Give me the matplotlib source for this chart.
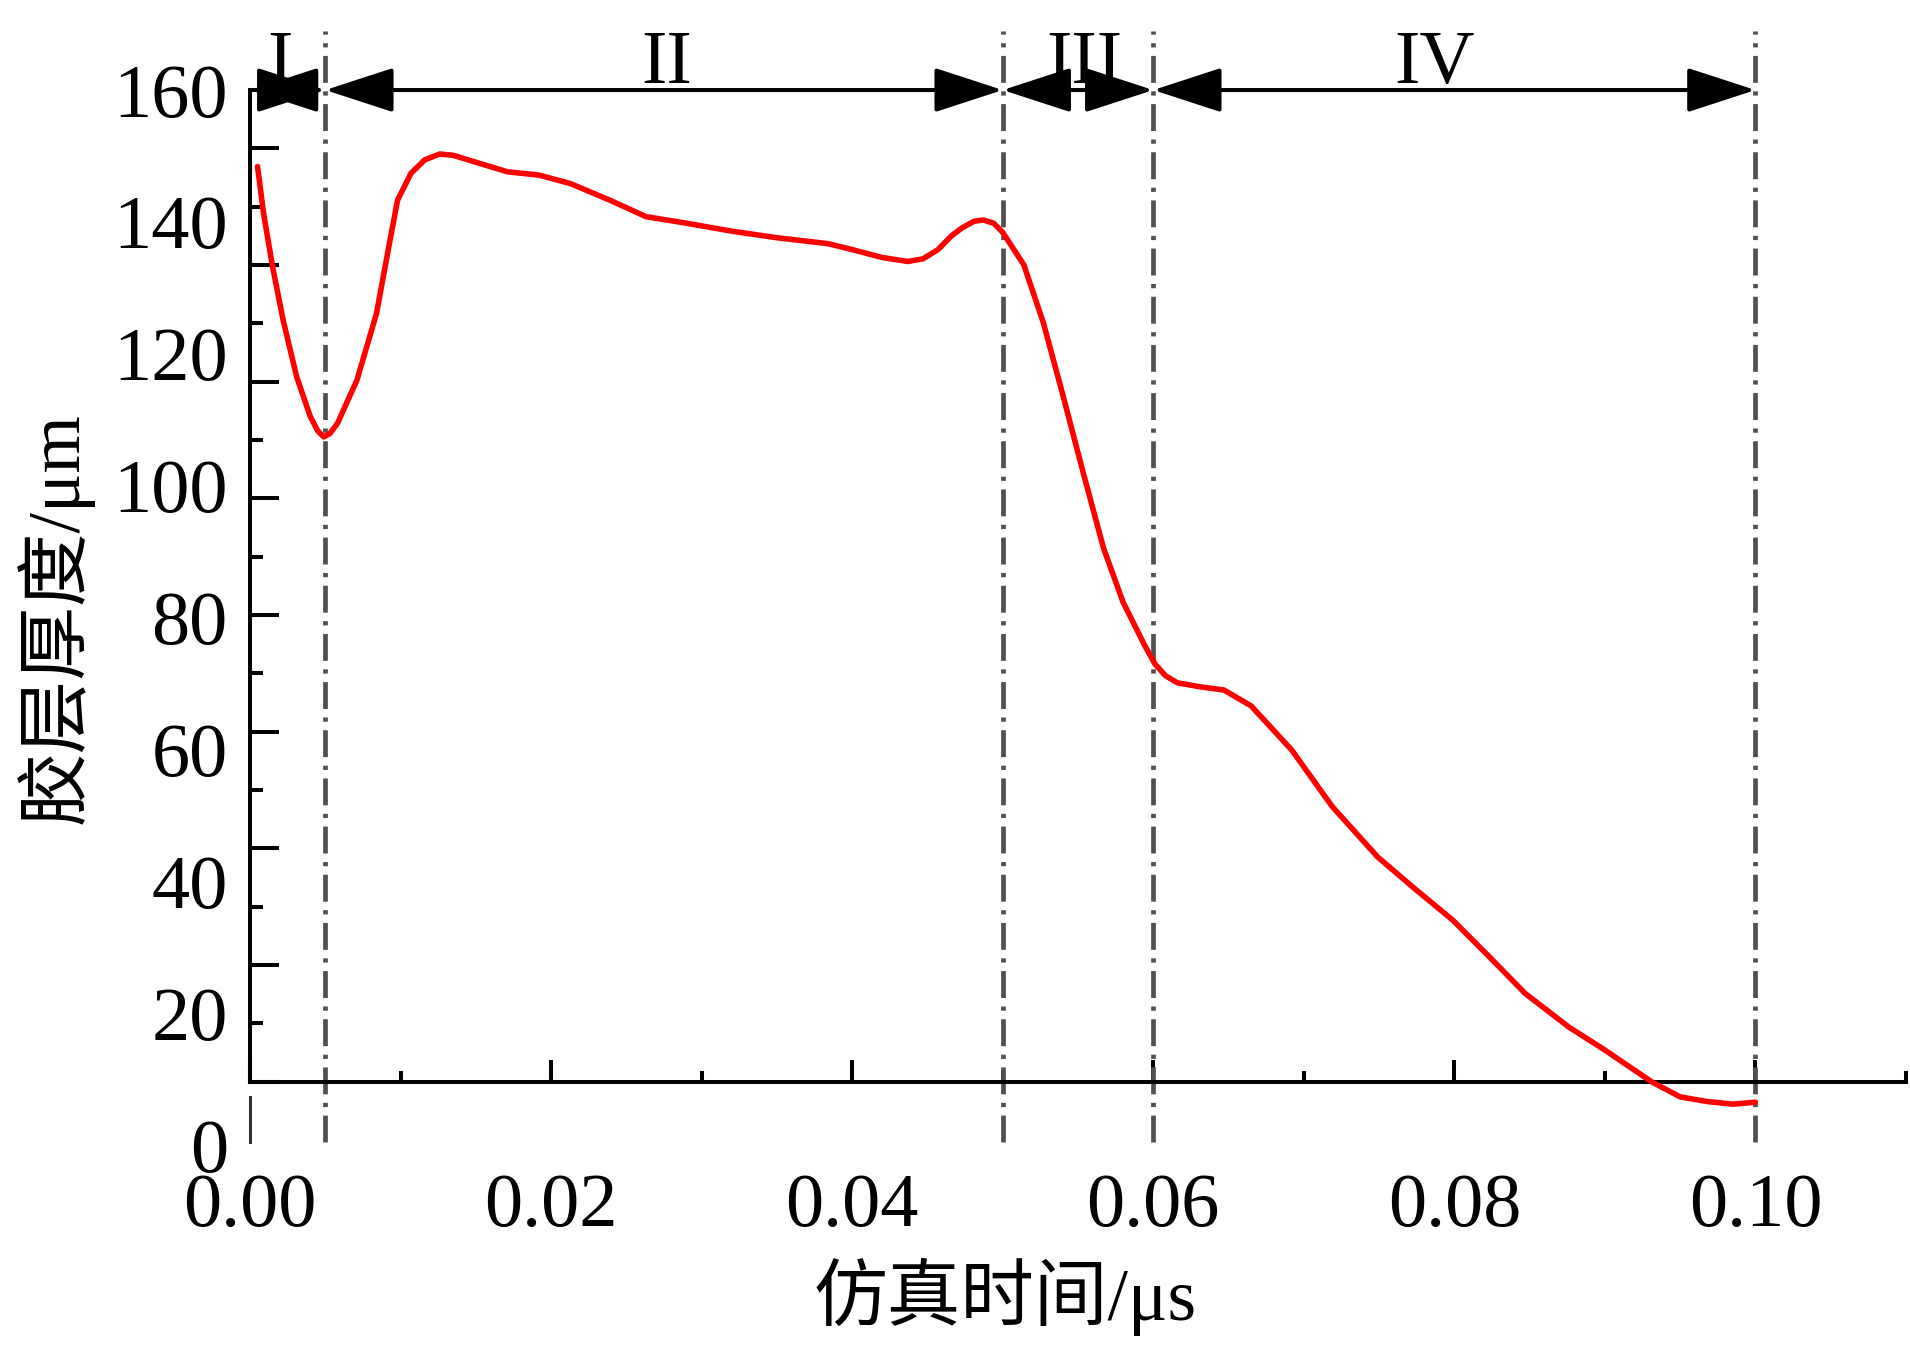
import numpy as np
import matplotlib
matplotlib.use("Agg")
import matplotlib.pyplot as plt

plt.rcParams['font.family'] = ['Liberation Serif', 'Noto Sans CJK SC']

# adhesive layer thickness vs simulation time
time_us = [0.0005, 0.0009, 0.0015, 0.0022, 0.0031, 0.0040, 0.0045, 0.0049,
           0.0053, 0.0058, 0.0071, 0.0084, 0.0092, 0.0098, 0.0107, 0.0116,
           0.0126, 0.0135, 0.0145, 0.0171, 0.0192, 0.0213, 0.0239, 0.0263,
           0.0290, 0.0320, 0.0350, 0.0384, 0.0400, 0.0420, 0.0437, 0.0447,
           0.0457, 0.0466, 0.0473, 0.0481, 0.0487, 0.0494, 0.0500, 0.0514,
           0.0527, 0.0540, 0.0554, 0.0567, 0.0580, 0.0594, 0.0601, 0.0608,
           0.0616, 0.0631, 0.0647, 0.0665, 0.0692, 0.0719, 0.0749, 0.0772,
           0.0799, 0.0823, 0.0847, 0.0876, 0.0900, 0.0931, 0.0950, 0.0968,
           0.0985, 0.1000]
thickness_um = [148.4, 141.3, 133.2, 125.1, 116.5, 110.5, 108.3, 107.4,
                107.9, 109.4, 116.0, 126.1, 136.0, 143.3, 147.4, 149.4,
                150.3, 150.1, 149.4, 147.6, 147.1, 145.8, 143.3, 140.8,
                139.8, 138.6, 137.6, 136.7, 135.8, 134.6, 134.0, 134.4,
                135.8, 137.9, 139.1, 140.1, 140.3, 139.8, 138.4, 133.5,
                124.7, 113.7, 101.5, 90.5, 82.3, 75.9, 73.0, 71.2,
                70.1, 69.5, 69.0, 66.6, 59.9, 51.3, 43.7, 39.2,
                34.1, 28.6, 23.0, 17.9, 14.4, 9.6, 7.3, 6.6,
                6.2, 6.5]

# stage boundaries and names
stage_bounds = [0.0, 0.005, 0.05, 0.06, 0.10]
stage_names = ['I', 'II', 'III', 'IV']
stage_name_x = [0.002, 0.0277, 0.0554, 0.0787]

y_labels = [0, 20, 40, 60, 80, 100, 120, 140, 160]
x_ticks = [0.00, 0.02, 0.04, 0.06, 0.08, 0.10]
x_ticklabels = ['0.00', '0.02', '0.04', '0.06', '0.08', '0.10']
x_minor = [0.01, 0.03, 0.05, 0.07, 0.09, 0.11]

axis_floor = 9.6   # level where the time axis sits
y_top = 160
ytick_marks = np.linspace(axis_floor, y_top, 18)

fig = plt.figure(figsize=(19.1, 13.46), dpi=100)
ax = fig.add_axes([0.1309, 0.1493, 0.867, 0.7838])
ax.set_xlim(0, 0.11)
ax.set_ylim(0, y_top)

for s in ['top', 'right']:
    ax.spines[s].set_visible(False)
ax.spines['left'].set_linewidth(2.9)
ax.spines['bottom'].set_linewidth(2.9)
ax.spines['left'].set_bounds(axis_floor, y_top)
ax.spines['bottom'].set_position(('data', axis_floor))

# y tick marks (do not line up with the numbers in the original)
ax.set_yticks(ytick_marks[::2])
ax.set_yticks(ytick_marks[1::2], minor=True)
ax.tick_params(axis='y', which='major', direction='in', length=21, width=2.9, labelleft=False)
ax.tick_params(axis='y', which='minor', direction='in', length=9, width=2.9)

sec = ax.secondary_yaxis('left')
sec.set_yticks(y_labels)
sec.tick_params(length=0, pad=16, labelsize=55)
sec.spines['left'].set_visible(False)

ax.set_xticks(x_ticks, labels=x_ticklabels)
ax.set_xticks(x_minor, minor=True)
ax.tick_params(axis='x', which='major', direction='in', length=16, width=2.9, pad=66, labelsize=55)
ax.tick_params(axis='x', which='minor', direction='in', length=8, width=2.9)

# stub of the y axis under the time axis
ax.plot([0, 0], [0.5, 7.3], color='#333333', lw=2.2, clip_on=False)

# stage dividers
for xb in stage_bounds[1:]:
    ax.plot([xb, xb], [0.5, 169], color='#505050', lw=3.4,
            dashes=(5.7, 1.8, 0.9, 1.8), clip_on=False, zorder=2)

# stage arrows
for a, b in zip(stage_bounds[:-1], stage_bounds[1:]):
    ax.annotate('', xy=(b, y_top), xytext=(a, y_top), annotation_clip=False,
                arrowprops=dict(arrowstyle='<|-|>,head_length=43,head_width=14',
                                mutation_scale=1, color='black', lw=2.9,
                                shrinkA=0, shrinkB=0))
for nm, xs in zip(stage_names, stage_name_x):
    ax.text(xs, 161, nm, ha='center', va='baseline', fontsize=55, clip_on=False)

ax.plot(time_us, thickness_um, color='#ff0000', lw=4.0, zorder=4, clip_on=False,
        solid_joinstyle='round', solid_capstyle='round')

fig.text(0.526, 0.0364, '仿真时间/μs', ha='center', va='center', fontsize=53)
fig.text(0.0288, 0.541, '胶层厚度/μm', ha='center', va='center', fontsize=53, rotation=90)

fig.savefig('out.png', dpi=100)
